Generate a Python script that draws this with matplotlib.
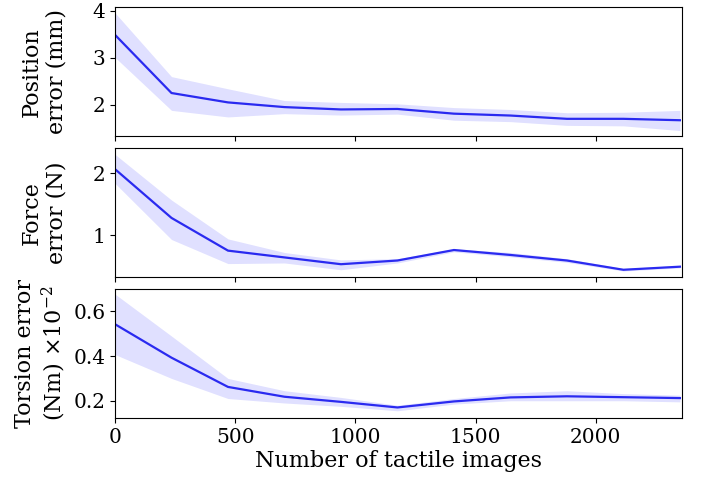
import numpy as np
import matplotlib
matplotlib.use('Agg')
import matplotlib.pyplot as plt

plt.rcParams['font.family'] = 'DejaVu Serif'
plt.rcParams['mathtext.fontset'] = 'dejavuserif'

n_images = [0, 235, 470, 705, 940, 1175, 1410, 1645, 1880, 2115, 2350]

pos_mean = [3.49, 2.25, 2.05, 1.95, 1.90, 1.91, 1.81, 1.77, 1.70, 1.70, 1.67]
pos_hi = [3.96, 2.60, 2.34, 2.09, 2.05, 2.02, 1.94, 1.90, 1.83, 1.84, 1.88]
pos_lo = [3.01, 1.88, 1.74, 1.81, 1.78, 1.80, 1.67, 1.64, 1.56, 1.55, 1.45]

force_mean = [2.07, 1.28, 0.75, 0.64, 0.53, 0.59, 0.76, 0.68, 0.59, 0.44, 0.49]
force_hi = [2.31, 1.57, 0.94, 0.72, 0.60, 0.62, 0.78, 0.72, 0.62, 0.46, 0.51]
force_lo = [1.84, 0.93, 0.54, 0.55, 0.44, 0.55, 0.73, 0.65, 0.56, 0.42, 0.47]

tor_mean = [0.543, 0.393, 0.262, 0.218, 0.195, 0.170, 0.197, 0.215, 0.220, 0.216, 0.212]
tor_hi = [0.678, 0.49, 0.30, 0.245, 0.215, 0.18, 0.21, 0.235, 0.245, 0.232, 0.225]
tor_lo = [0.407, 0.30, 0.21, 0.19, 0.175, 0.155, 0.185, 0.20, 0.20, 0.20, 0.195]

fig, axes = plt.subplots(3, 1, figsize=(7.1, 4.79), dpi=100, sharex=True)
fig.subplots_adjust(left=0.162, right=0.961, top=0.985, bottom=0.127, hspace=0.093)

series = [(pos_mean, pos_lo, pos_hi, 'Position\nerror (mm)', (1.33, 4.08)),
          (force_mean, force_lo, force_hi, 'Force\nerror (N)', (0.32, 2.41)),
          (tor_mean, tor_lo, tor_hi, 'Torsion error\n(Nm) $\\times 10^{-2}$', (0.122, 0.70))]

for ax, (m, lo, hi, lab, yl) in zip(axes, series):
    ax.fill_between(n_images, lo, hi, color='#0000ff', alpha=0.12, linewidth=0)
    ax.plot(n_images, m, color='#2a2af0', linewidth=1.6)
    ax.set_ylim(*yl)
    ax.set_ylabel(lab, fontsize=16, linespacing=1.15)
    ax.tick_params(labelsize=14.5)

axes[0].set_yticks([2, 3, 4])
axes[1].set_yticks([1, 2])
axes[2].set_yticks([0.2, 0.4, 0.6])
axes[2].set_xlim(0, 2360)
axes[2].set_xticks([0, 500, 1000, 1500, 2000])
axes[2].set_xlabel('Number of tactile images', fontsize=16, labelpad=2)
fig.align_ylabels(axes)

fig.savefig('out.png', dpi=100)
